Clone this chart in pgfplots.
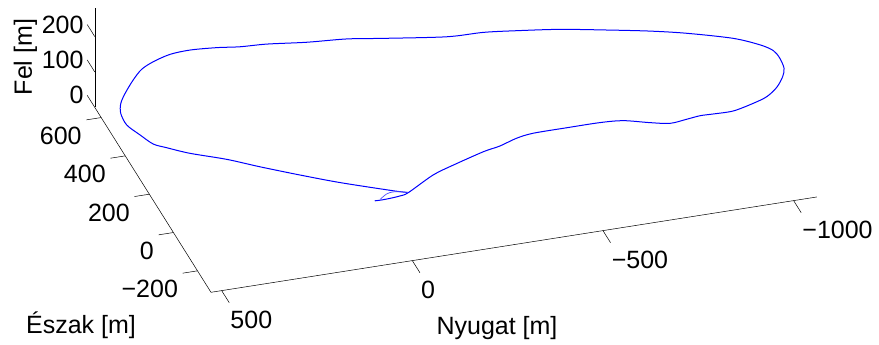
\documentclass[border=0pt]{standalone}
\usepackage{fontspec}
\setmainfont{Liberation Sans}
\usepackage{pgfplots}
\pgfplotsset{compat=1.18}
\tikzset{lbl/.style={font=\fontsize{25}{29}\selectfont, inner sep=0pt}}
\begin{document}
\begin{tikzpicture}
\begin{axis}[
  x={(-0.3813pt,-0.06pt)}, y={(-0.1204pt,0.1916pt)}, z={(0pt,0.354pt)},
  xmin=-1061, xmax=528, ymin=-312, ymax=653, zmin=0, zmax=1,
  hide axis, clip=false,
]
\addplot3[blue, line width=1pt, line join=round, smooth, tension=0.5] coordinates {
(0,0,0) (-18,-1,0) (-39,-3,2) (-65,-4,5) (-87,-3,10) (-157,12,40)
(-207,2,65) (-280,-16,100) (-317,-35,120) (-358,-44,140) (-397,-58,155)
(-472,-99,180) (-549,-133,200) (-602,-158,210) (-657,-204,220)
(-700,-236,228) (-743,-239,234) (-778,-239,238) (-811,-244,240)
(-862,-248,242) (-920,-230,244) (-962,-210,245) (-999,-175,246)
(-1029,-129,246) (-1045,-90,246) (-1050,-39,246) (-1046,2,246)
(-1023,39,246) (-969,92,245) (-867,154,243) (-784,197,240)
(-685,241,236) (-576,286,232) (-474,322,226) (-395,349,220)
(-305,369,212) (-158,429,200) (-74,467,192) (21,498,182) (114,536,172)
(178,555,165) (231,580,158) (294,602,150) (344,610,142) (391,601,134)
(426,587,126) (458,556,118) (493,512,110) (515,478,104) (527,441,98)
(527,391,92) (507,344,86) (486,301,80) (457,282,75) (405,253,66)
(320,215,55) (247,172,45) (157,125,32) (66,79,20) (-56,24,6)
(-90,10,3)
};
\addplot3[blue!70, line width=0.7pt, smooth, tension=0.5] coordinates {
(-90,10,3) (-73,21,2) (-56,27,1) (-39,24,0) (-15,3,0)
};
\coordinate (BL) at ([shift={(-211pt,-52.7pt)}]axis cs:528,-312,0);
\path (BL) rectangle ([shift={(879pt,345pt)}]BL);
% axis lines
\draw[line width=0.5pt] (axis cs:528,-312,0) -- (axis cs:-1061,-312,0);
\draw[line width=0.5pt] (axis cs:528,-312,0) -- (axis cs:528,653,0);
\draw[line width=0.5pt] (axis cs:528,653,0) -- (axis cs:528,653,282);
% ticks
\pgfplotsinvokeforeach{500,0,-500,-1000}{
  \draw[line width=0.5pt] (axis cs:#1,-312,0) -- (axis cs:#1,-375,0);}
\pgfplotsinvokeforeach{-200,0,200,400,600}{
  \draw[line width=0.5pt] (axis cs:528,#1,0) -- (axis cs:567,#1,0);}
\pgfplotsinvokeforeach{0,100,200}{
  \draw[line width=0.5pt] (axis cs:528,653,#1) -- (axis cs:528,716,#1);}
% x tick labels
\node[lbl, anchor=north west] at ([shift={(1pt,-8.5pt)}]axis cs:500,-375,0) {500};
\node[lbl, anchor=north west] at ([shift={(1pt,-8.5pt)}]axis cs:0,-375,0) {0};
\node[lbl, anchor=north west] at ([shift={(1pt,-8.5pt)}]axis cs:-500,-375,0) {−500};
\node[lbl, anchor=north west] at ([shift={(1pt,-8.5pt)}]axis cs:-1000,-375,0) {−1000};
% y tick labels
\node[lbl, anchor=north east] at ([shift={(-4.5pt,-7pt)}]axis cs:567,-200,0) {−200};
\node[lbl, anchor=north east] at ([shift={(-4.5pt,-7pt)}]axis cs:567,0,0) {0};
\node[lbl, anchor=north east] at ([shift={(-4.5pt,-7pt)}]axis cs:567,200,0) {200};
\node[lbl, anchor=north east] at ([shift={(-4.5pt,-7pt)}]axis cs:567,400,0) {400};
\node[lbl, anchor=north east] at ([shift={(-4.5pt,-7pt)}]axis cs:567,600,0) {600};
% z tick labels
\node[lbl, anchor=east] at ([shift={(-3.5pt,0pt)}]axis cs:528,716,0) {0};
\node[lbl, anchor=east] at ([shift={(-3.5pt,0pt)}]axis cs:528,716,100) {100};
\node[lbl, anchor=east] at ([shift={(-3.5pt,0pt)}]axis cs:528,716,200) {200};
% axis labels
\node[lbl, rotate=90] at ([shift={(25.5pt,288pt)}]BL) {Fel [m]};
\node[lbl] at ([shift={(81pt,20pt)}]BL) {Észak [m]};
\node[lbl] at ([shift={(497pt,17pt)}]BL) {Nyugat [m]};
\end{axis}
\end{tikzpicture}
\end{document}
